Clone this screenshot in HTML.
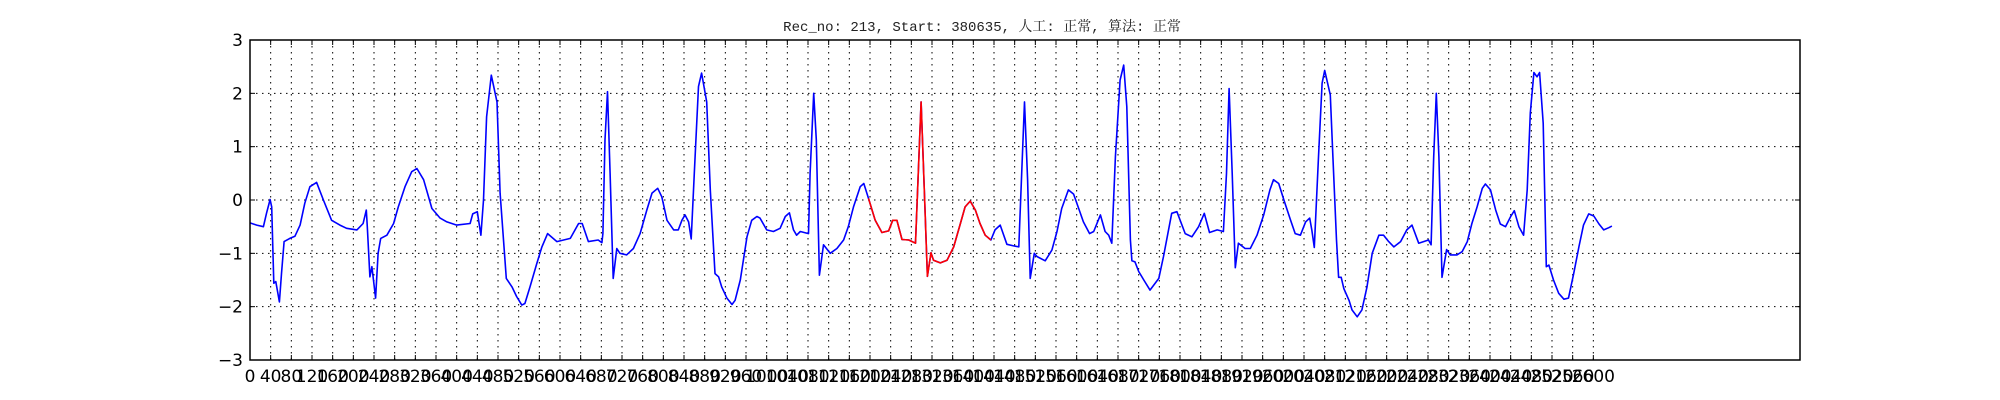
<!DOCTYPE html>
<html><head><meta charset="utf-8"><style>
html,body{margin:0;padding:0;background:#fff;width:2000px;height:400px;overflow:hidden}
</style></head><body>
<svg id="chart" width="2000" height="400" xmlns="http://www.w3.org/2000/svg">
<text x="982" y="31" text-anchor="middle" font-family="'Liberation Mono','Noto Serif CJK SC',monospace" font-size="14" fill="#222">Rec_no: 213, Start: 380635, 人工: 正常, 算法: 正常</text>
<g id="grid"></g>
<g id="series"></g>
<rect x="250" y="40" width="1550" height="320" fill="none" stroke="#000" stroke-width="1.5"/>
<g id="ticks"></g>
</svg>
<script>
const sampleIdx = [0,13,26,32,39,42,46,50,57,61,66,77,87,97,106,116,129,142,158,174,187,207,219,225,227,232,236,243,248,253,265,278,287,300,313,323,336,352,368,381,400,426,431,440,447,452,458,467,478,484,496,507,516,526,532,542,555,565,576,594,620,636,643,655,674,681,
683,687,692,697,703,710,716,729,742,755,768,778,789,797,807,820,829,836,842,849,854,860,868,874,884,891,900,907,913,923,933,939,949,962,971,981,987,1000,1013,1026,1036,1044,1052,1058,1065,1081,1084,1091,1096,1102,1110,1123,1136,1149,1158,1168,1181,1188,1197,1210,1223,1236,1244,1252,1262,1275,1288,1299,1305,1311,1318,1323,1336,1349,1362,1375,
1384,1394,1404,1413,1423,1434,1442,1452,1465,1478,1488,1499,1505,1510,1518,1523,1539,1552,1562,1571,1584,1594,1604,1613,1625,1633,1646,1655,1662,1668,1675,1684,1691,1697,1704,1707,1713,1720,1730,1742,1759,1768,1784,1794,1810,1823,1836,1847,1857,1872,1884,1890,1895,1901,1907,1913,1926,1936,1949,1962,1974,1981,1991,2001,2014,2023,2033,
2043,2051,2055,2060,2068,2075,2080,2091,2096,2103,2107,2112,2117,2127,2133,2143,2152,2162,2172,2185,2194,2204,2214,2227,2239,2249,2262,2281,2286,2291,2296,2301,2307,2316,2323,2336,2346,2356,2365,2375,2385,2391,2401,2411,2420,2430,2440,2447,2456,2465,2472,2478,2485,2491,2496,2503,2509,2514,2523,2533,2543,2552,2562,2572,2581,2591,2601,2611,2620,2630,2636];
const ecgValues = [-0.43,-0.47,-0.50,-0.25,0.01,-0.13,-1.56,-1.53,-1.91,-1.38,-0.78,-0.72,-0.68,-0.47,-0.06,0.25,0.33,0.00,-0.38,-0.47,-0.53,-0.56,-0.44,-0.19,-0.50,-1.44,-1.25,-1.84,-1.00,-0.72,-0.66,-0.44,-0.13,0.25,0.53,0.59,0.38,-0.16,-0.34,-0.41,-0.47,-0.44,-0.26,-0.22,-0.66,0.00,1.56,2.34,1.84,0.13,-1.47,-1.63,-1.81,-1.97,-1.94,-1.63,-1.19,-0.88,-0.63,-0.78,-0.72,-0.44,-0.44,-0.78,-0.75,-0.80,
-0.63,1.13,2.03,0.50,-1.47,-0.91,-1.00,-1.03,-0.91,-0.63,-0.19,0.13,0.22,0.06,-0.38,-0.56,-0.56,-0.38,-0.28,-0.41,-0.73,0.50,2.13,2.38,1.84,0.19,-1.38,-1.44,-1.63,-1.84,-1.96,-1.88,-1.50,-0.69,-0.38,-0.31,-0.34,-0.56,-0.59,-0.53,-0.31,-0.24,-0.56,-0.66,-0.59,-0.63,0.50,2.00,1.13,-1.41,-0.84,-1.00,-0.91,-0.75,-0.50,-0.13,0.25,0.31,0.03,-0.38,-0.61,-0.58,-0.38,-0.38,-0.74,-0.75,-0.81,1.84,0.19,-1.43,-0.99,-1.13,-1.18,-1.13,-0.88,-0.44,
-0.13,-0.02,-0.19,-0.44,-0.66,-0.75,-0.56,-0.47,-0.83,-0.86,-0.88,1.84,0.38,-1.47,-1.00,-1.06,-1.14,-0.94,-0.59,-0.16,0.19,0.11,-0.16,-0.41,-0.63,-0.59,-0.28,-0.59,-0.66,-0.81,0.81,2.25,2.53,1.75,-0.75,-1.14,-1.16,-1.34,-1.50,-1.69,-1.47,-1.06,-0.25,-0.22,-0.63,-0.69,-0.50,-0.25,-0.61,-0.56,-0.59,0.50,2.09,0.50,-1.27,-0.81,-0.91,-0.91,-0.66,-0.28,0.19,0.38,0.31,0.00,-0.38,-0.63,-0.66,
-0.41,-0.34,-0.56,-0.89,0.81,2.19,2.43,1.97,0.81,-0.75,-1.45,-1.45,-1.66,-1.88,-2.06,-2.19,-2.06,-1.63,-1.00,-0.66,-0.66,-0.78,-0.88,-0.78,-0.56,-0.47,-0.81,-0.75,-0.84,0.81,2.00,0.81,-1.45,-0.93,-1.03,-1.03,-0.97,-0.78,-0.44,-0.13,0.22,0.30,0.19,-0.19,-0.45,-0.50,-0.31,-0.20,-0.50,-0.66,0.19,1.63,2.39,2.31,2.39,1.44,-1.25,-1.22,-1.50,-1.75,-1.86,-1.84,-1.38,-0.88,-0.47,-0.26,-0.30,-0.45,-0.56,-0.52,-0.49];
const highlightRange = [1197, 1434];
const yTickValues = [-3,-2,-1,0,1,2,3];
const xTickValues = [];
for (let t = 0; t <= 2600; t += 40) xTickValues.push(t);
const X_MIN = 0, X_MAX = 3000, Y_MIN = -3, Y_MAX = 3;

const L = 250, R = 1800, T = 40, B = 360;
const xs = s => L + (s - X_MIN) / (X_MAX - X_MIN) * (R - L);
const ys = v => B - (v - Y_MIN) / (Y_MAX - Y_MIN) * (B - T);
const NS = 'http://www.w3.org/2000/svg';
const grid = document.getElementById('grid');
const ticks = document.getElementById('ticks');
const series = document.getElementById('series');
function mk(tag, attrs, parent) {
  const e = document.createElementNS(NS, tag);
  for (const k in attrs) e.setAttribute(k, attrs[k]);
  parent.appendChild(e);
  return e;
}
xTickValues.forEach(t => {
  const x = xs(t);
  const g = mk('line', {x1: x, x2: x, y1: T, y2: B, stroke: '#000', 'stroke-width': 1, 'stroke-dasharray': '1.5,4.5'}, grid);
  
  
  const t1 = mk('line', {x1: x, x2: x, y1: B, y2: B - 5, stroke: '#000', 'stroke-width': 1}, ticks);
  
  
  const t2 = mk('line', {x1: x, x2: x, y1: T, y2: T + 5, stroke: '#000', 'stroke-width': 1}, ticks);
  
  
  const lb = mk('text', {x: x, y: 382, 'text-anchor': 'middle', 'font-family': "'DejaVu Sans','Liberation Sans',sans-serif", 'font-size': 17, fill: '#000'}, ticks);
  lb.textContent = t;
  
  
});
yTickValues.forEach(v => {
  const y = ys(v);
  if (v > Y_MIN && v < Y_MAX) {
    const g = mk('line', {x1: L, x2: R, y1: y, y2: y, stroke: '#000', 'stroke-width': 1, 'stroke-dasharray': '1.5,4.5'}, grid);
    
    
  }
  const t1 = mk('line', {x1: L, x2: L + 5, y1: y, y2: y, stroke: '#000', 'stroke-width': 1}, ticks);
  
  
  const t2 = mk('line', {x1: R - 5, x2: R, y1: y, y2: y, stroke: '#000', 'stroke-width': 1}, ticks);
  
  
  const lb = mk('text', {x: 243, y: y + 6, 'text-anchor': 'end', 'font-family': "'DejaVu Sans','Liberation Sans',sans-serif", 'font-size': 17, fill: '#000'}, ticks);
  lb.textContent = v < 0 ? '\u2212' + Math.abs(v) : String(v);
  
  
});
const allPts = sampleIdx.map((s, i) => xs(s).toFixed(1) + ',' + ys(ecgValues[i]).toFixed(1)).join(' ');
const blue = mk('polyline', {points: allPts, fill: 'none', stroke: '#0000ff', 'stroke-width': 1.6, 'stroke-linejoin': 'round'}, series);


const redPts = [];
sampleIdx.forEach((s, i) => { if (s >= highlightRange[0] && s <= highlightRange[1]) redPts.push(xs(s).toFixed(1) + ',' + ys(ecgValues[i]).toFixed(1)); });
const red = mk('polyline', {points: redPts.join(' '), fill: 'none', stroke: '#ff0000', 'stroke-width': 1.6, 'stroke-linejoin': 'round'}, series);


</script>
</body></html>
